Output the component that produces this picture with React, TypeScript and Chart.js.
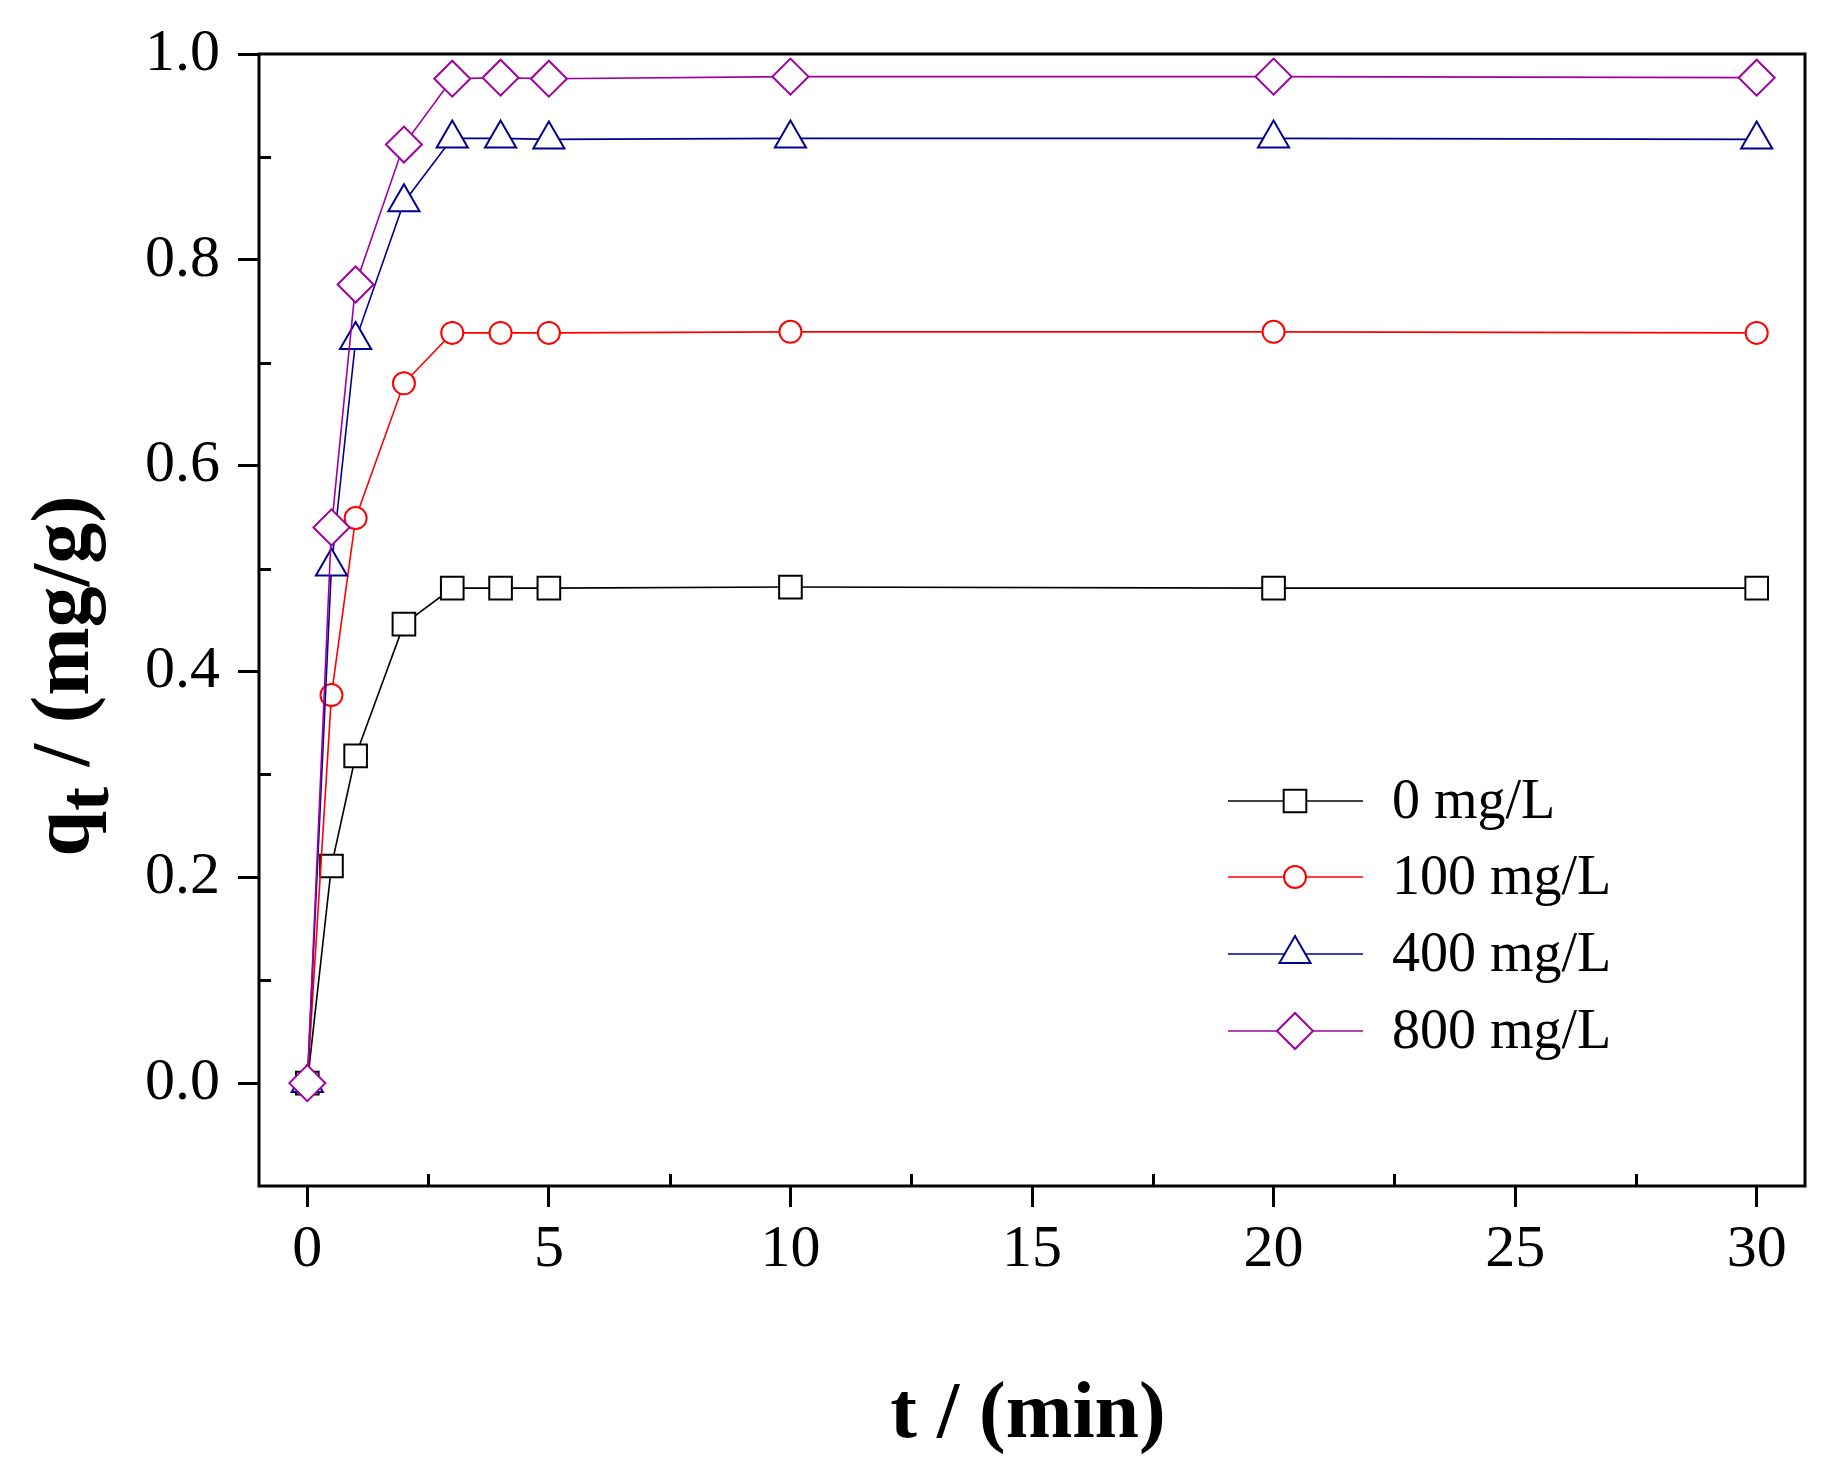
import React, { useEffect, useRef } from 'react';
import { Chart, registerables } from 'chart.js';

Chart.register(...registerables);

// ---- data ----
const times = [0, 0.5, 1, 2, 3, 4, 5, 10, 20, 30];
const seriesLabels = ['0 mg/L', '100 mg/L', '400 mg/L', '800 mg/L'];
const q0 = [0, 0.211, 0.318, 0.446, 0.481, 0.481, 0.481, 0.482, 0.481, 0.481];
const q100 = [0, 0.377, 0.549, 0.68, 0.729, 0.729, 0.729, 0.73, 0.73, 0.729];
const q400 = [0, 0.502, 0.722, 0.856, 0.918, 0.918, 0.917, 0.918, 0.918, 0.917];
const q800 = [0, 0.54, 0.776, 0.912, 0.976, 0.977, 0.976, 0.978, 0.978, 0.977];
const seriesColors = ['#000000', '#ff0000', '#000090', '#a000a0'];
const seriesMarkers = ['rect', 'circle', 'triangle', 'rectRot'];
const markerRadii = [16, 11, 18, 18];

const xTicks = [0, 5, 10, 15, 20, 25, 30];
const xMinorTicks = [2.5, 7.5, 12.5, 17.5, 22.5, 27.5];
const yTicks = [0, 0.2, 0.4, 0.6, 0.8, 1.0];
const yMinorTicks = [0.1, 0.3, 0.5, 0.7, 0.9];
const xTitle = 't / (min)';
const yTitleMain = 'q';
const yTitleSub = 't';
const yTitleRest = ' / (mg/g)';

const FONT = '"Liberation Serif", "Times New Roman", serif';

function drawMarker(ctx: CanvasRenderingContext2D, style: string, x: number, y: number, r: number) {
  ctx.beginPath();
  if (style === 'rect') {
    const s = Math.SQRT1_2 * r;
    ctx.rect(x - s, y - s, 2 * s, 2 * s);
  } else if (style === 'circle') {
    ctx.arc(x, y, r, 0, Math.PI * 2);
  } else if (style === 'triangle') {
    ctx.moveTo(x, y - r);
    ctx.lineTo(x + r * Math.sin(Math.PI * 2 / 3), y + r / 2);
    ctx.lineTo(x - r * Math.sin(Math.PI * 2 / 3), y + r / 2);
    ctx.closePath();
  } else {
    ctx.moveTo(x - r, y);
    ctx.lineTo(x, y - r);
    ctx.lineTo(x + r, y);
    ctx.lineTo(x, y + r);
    ctx.closePath();
  }
  ctx.fill();
  ctx.stroke();
}

const decorPlugin = {
  id: 'decor',
  afterDraw(chart: any) {
    const { ctx, chartArea: a, scales } = chart;
    const xs = scales.x;
    const ys = scales.y;
    ctx.save();
    // frame
    ctx.strokeStyle = '#000';
    ctx.lineWidth = 3;
    ctx.strokeRect(a.left, a.top, a.right - a.left, a.bottom - a.top);
    // minor ticks (inside)
    ctx.beginPath();
    yMinorTicks.forEach((v) => {
      const py = Math.round(ys.getPixelForValue(v)) + 0.5;
      ctx.moveTo(a.left, py);
      ctx.lineTo(a.left + 12, py);
    });
    xMinorTicks.forEach((v) => {
      const px = Math.round(xs.getPixelForValue(v)) + 0.5;
      ctx.moveTo(px, a.bottom);
      ctx.lineTo(px, a.bottom - 12);
    });
    ctx.stroke();

    // x title
    ctx.fillStyle = '#000';
    ctx.font = `bold 80px ${FONT}`;
    ctx.textAlign = 'center';
    ctx.textBaseline = 'alphabetic';
    ctx.fillText(xTitle, (a.left + a.right) / 2 - 4, a.bottom + 251);

    // y title (rotated)
    const mainFont = `bold 82px ${FONT}`;
    const subFont = `bold 72px ${FONT}`;
    ctx.font = mainFont;
    const wq = ctx.measureText(yTitleMain).width;
    const wr = ctx.measureText(yTitleRest).width;
    ctx.font = subFont;
    const wt = ctx.measureText(yTitleSub).width;
    const total = wq + wt + wr;
    ctx.translate(88, a.top + 622);
    ctx.rotate(-Math.PI / 2);
    ctx.textAlign = 'left';
    let cx = -total / 2;
    ctx.font = mainFont;
    ctx.fillText(yTitleMain, cx, 0);
    cx += wq;
    ctx.font = subFont;
    ctx.fillText(yTitleSub, cx, 20);
    cx += wt;
    ctx.font = mainFont;
    ctx.fillText(yTitleRest, cx, 0);
    ctx.setTransform(1, 0, 0, 1, 0, 0);

    // legend
    const rowsY = [801, 877, 954, 1031];
    ctx.font = `56px ${FONT}`;
    ctx.textBaseline = 'middle';
    ctx.textAlign = 'left';
    seriesLabels.forEach((lab, i) => {
      const yy = rowsY[i];
      ctx.strokeStyle = seriesColors[i];
      ctx.lineWidth = 1.6;
      ctx.beginPath();
      ctx.moveTo(1228, yy);
      ctx.lineTo(1363, yy);
      ctx.stroke();
      ctx.fillStyle = '#fff';
      ctx.lineWidth = 2;
      drawMarker(ctx, seriesMarkers[i], 1295, yy, markerRadii[i]);
      ctx.fillStyle = '#000';
      ctx.fillText(lab, 1392, yy + 2);
    });
    ctx.restore();
  },
};

export default function App() {
  const ref = useRef<HTMLCanvasElement>(null);
  useEffect(() => {
    const values = [q0, q100, q400, q800];
    const chart = new Chart(ref.current as HTMLCanvasElement, {
      type: 'line',
      data: {
        datasets: values.map((vals, i) => ({
          label: seriesLabels[i],
          data: times.map((t, j) => ({ x: t, y: vals[j] })),
          borderColor: seriesColors[i],
          borderWidth: 1.6,
          pointStyle: seriesMarkers[i] as any,
          pointRadius: markerRadii[i],
          pointBorderWidth: 2,
          pointBorderColor: seriesColors[i],
          pointBackgroundColor: '#ffffff',
          tension: 0,
          fill: false,
          order: 3 - i,
        })),
      },
      options: {
        animation: false,
        responsive: false,
        devicePixelRatio: 1,
        events: [],
        layout: { padding: { top: 53, right: 25, left: 0, bottom: 0 } },
        plugins: {
          legend: { display: false },
          tooltip: { enabled: false },
          title: { display: false },
        },
        scales: {
          x: {
            type: 'linear',
            min: -1,
            max: 31,
            afterBuildTicks: (axis: any) => {
              axis.ticks = xTicks.map((v) => ({ value: v }));
            },
            afterFit: (axis: any) => {
              axis.height = 276;
            },
            ticks: {
              color: '#000',
              font: { family: FONT, size: 60 },
              padding: 7,
              maxRotation: 0,
              autoSkip: false,
              callback: (v: any) => String(v),
            },
            grid: {
              display: true,
              drawOnChartArea: false,
              drawTicks: true,
              tickLength: 21,
              tickWidth: 3,
              tickColor: '#000',
            },
            border: { display: false },
          },
          y: {
            type: 'linear',
            min: -0.1,
            max: 1.0,
            afterBuildTicks: (axis: any) => {
              axis.ticks = yTicks.map((v) => ({ value: v }));
            },
            afterFit: (axis: any) => {
              axis.width = 259;
            },
            ticks: {
              color: '#000',
              font: { family: FONT, size: 60 },
              padding: 18,
              autoSkip: false,
              callback: (v: any) => Number(v).toFixed(1),
            },
            grid: {
              display: true,
              drawOnChartArea: false,
              drawTicks: true,
              tickLength: 21,
              tickWidth: 3,
              tickColor: '#000',
            },
            border: { display: false },
          },
        },
      },
      plugins: [decorPlugin],
    });
    return () => chart.destroy();
  }, []);
  return (
    <div style={{ position: 'absolute', left: 0, top: 0, width: 1830, height: 1462, background: '#fff' }}>
      <canvas ref={ref} width={1830} height={1462} style={{ display: 'block', width: 1830, height: 1462 }} />
    </div>
  );
}
